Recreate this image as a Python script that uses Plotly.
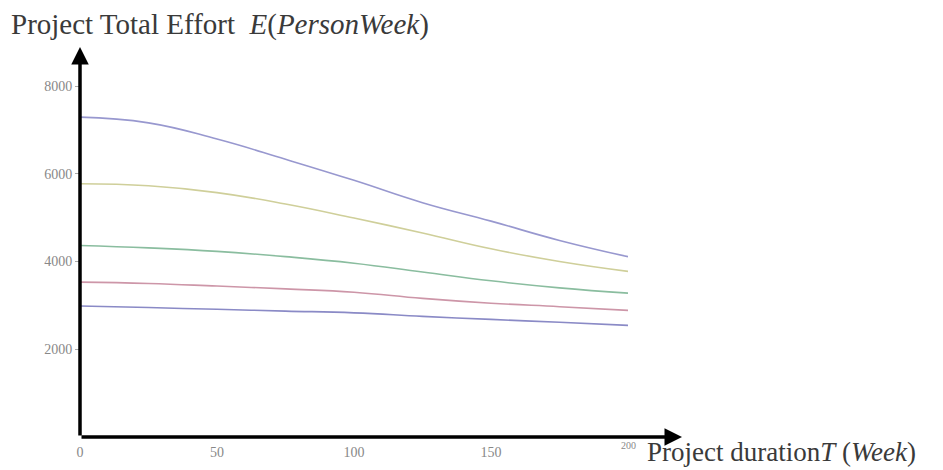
import plotly.graph_objects as go

T = [0, 25, 50, 75, 100, 125, 150, 175, 200]
series_1 = [7290, 7160, 6790, 6330, 5850, 5340, 4920, 4480, 4110]
series_2 = [5773, 5725, 5570, 5310, 4990, 4650, 4290, 4000, 3775]
series_3 = [4364, 4310, 4230, 4110, 3960, 3760, 3560, 3400, 3280]
series_4 = [3530, 3500, 3440, 3375, 3300, 3160, 3050, 2970, 2886]
series_5 = [2985, 2950, 2910, 2870, 2830, 2750, 2680, 2615, 2545]

x_ticks = [0, 50, 100, 150]
y_ticks = [2000, 4000, 6000, 8000]

colors = ["#9898cf", "#cfcf9a", "#8abd9f", "#cd96a8", "#8a8ac6"]
all_series = [series_1, series_2, series_3, series_4, series_5]

fig = go.Figure()
for s, c in zip(all_series, colors):
    fig.add_trace(go.Scatter(x=T, y=s, mode="lines", line=dict(color=c, width=1.6, shape="spline", smoothing=1.3),
                             showlegend=False, hoverinfo="skip"))

# page has an 8px body margin: positions below are page coords minus 8
OFF = 8
W, H = 943, 470
L = 80 - OFF
TOP = 86 - OFF
AXIS_Y = 437 - OFF
RIGHT = 628 - OFF
R = W - RIGHT
B = H - AXIS_Y
pw = RIGHT - L
ph = AXIS_Y - TOP

tick_font = dict(family="Liberation Serif", size=14, color="#888888")

fig.update_layout(
    width=W, height=H,
    margin=dict(l=L, r=R, t=TOP, b=B, pad=0),
    plot_bgcolor="white", paper_bgcolor="white",
    xaxis=dict(range=[0, 200], showgrid=False, zeroline=False, showline=False,
               tickvals=x_ticks, ticktext=[str(v) for v in x_ticks],
               ticks="", ticklabelstandoff=5, tickfont=tick_font),
    yaxis=dict(range=[0, 8000], showgrid=False, zeroline=False, showline=False,
               tickvals=y_ticks, ticktext=[str(v) for v in y_ticks],
               ticks="outside", ticklen=4, tickcolor="#aaaaaa", tickwidth=1,
               tickfont=tick_font),
)

def px_x(p):
    return (p - OFF - L) / pw

def px_y(p):
    return (AXIS_Y - (p - OFF)) / ph

# axis arrows
fig.add_annotation(xref="paper", yref="paper", x=px_x(682), y=0, ax=-(682 - 80), ay=0,
                   text="", showarrow=True, arrowhead=2, arrowsize=1.0, arrowwidth=3.5,
                   arrowcolor="black", standoff=0, startstandoff=0)
fig.add_annotation(xref="paper", yref="paper", x=0, y=px_y(47), ax=0, ay=(437 - 47),
                   text="", showarrow=True, arrowhead=2, arrowsize=1.0, arrowwidth=3.5,
                   arrowcolor="black", standoff=0, startstandoff=0)

# "200" tick label sitting next to the x title
fig.add_annotation(xref="x", yref="paper", x=200, y=px_y(445), text="200", showarrow=False,
                   font=dict(family="Liberation Serif", size=10, color="#888888"),
                   xanchor="center", yanchor="middle")

# axis titles
fig.add_annotation(xref="paper", yref="paper", x=px_x(645), y=px_y(469),
                   text="Project duration<i>T</i> (<i>Week</i>)", showarrow=False,
                   font=dict(family="Liberation Serif", size=27, color="#3a3a3a"),
                   xanchor="left", yanchor="bottom")
fig.add_annotation(xref="paper", yref="paper", x=px_x(9), y=px_y(24),
                   text="Project Total Effort  <i>E</i>(<i>PersonWeek</i>)", showarrow=False,
                   font=dict(family="Liberation Serif", size=29, color="#3a3a3a"),
                   xanchor="left", yanchor="middle")

fig.write_html("out.html")
